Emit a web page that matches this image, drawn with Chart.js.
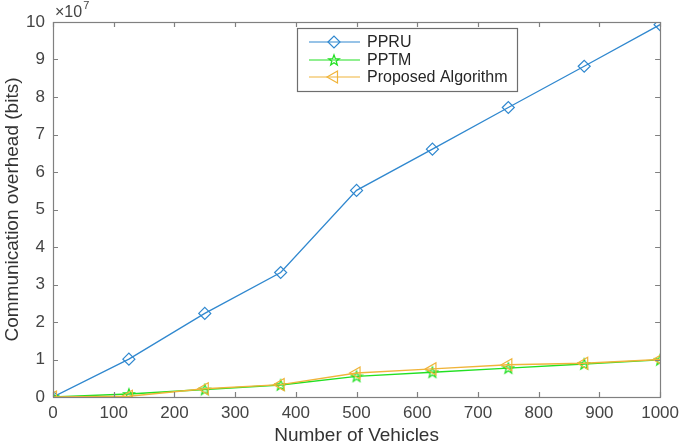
<!DOCTYPE html>
<html>
<head>
<meta charset="utf-8">
<script src="https://cdn.jsdelivr.net/npm/chart.js@4"></script>
<style>
html,body{margin:0;padding:0;background:#fff;}
#wrap{width:685px;height:446px;position:relative;}
</style>
</head>
<body>
<div id="wrap"><canvas id="c" width="685" height="446"></canvas></div>
<script>
// Data (values in units of 1e7 bits)
const vehicles = [0, 125, 250, 375, 500, 625, 750, 875, 1000];
const ppru = [0, 1.01, 2.23, 3.32, 5.51, 6.61, 7.72, 8.82, 9.93];
const pptm = [0, 0.08, 0.20, 0.32, 0.55, 0.66, 0.77, 0.88, 0.99];
const proposed = [0, 0.02, 0.22, 0.33, 0.64, 0.75, 0.86, 0.90, 1.00];
const seriesNames = ['PPRU', 'PPTM', 'Proposed Algorithm'];
const xTicks = [0,100,200,300,400,500,600,700,800,900,1000];
const yTicks = [0,1,2,3,4,5,6,7,8,9,10];
const SCALE = 1e7;

const cBlue = '#3088cf', cGreen = '#22e022', cOrange = '#f0b43a';

function starCanvas(color){
  const s = 14, cv = document.createElement('canvas');
  cv.width = s; cv.height = s;
  const g = cv.getContext('2d');
  g.strokeStyle = color; g.lineWidth = 1.3;
  g.beginPath();
  const cx = s/2, cy = s/2 + 0.5, R = 5.6, r = 2.3;
  for (let i=0;i<10;i++){
    const a = -Math.PI/2 + i*Math.PI/5;
    const rr = i%2===0 ? R : r;
    const x = cx + rr*Math.cos(a), y = cy + rr*Math.sin(a);
    if(i===0) g.moveTo(x,y); else g.lineTo(x,y);
  }
  g.closePath(); g.stroke();
  return cv;
}
const starImg = starCanvas(cGreen);

const toPts = arr => arr.map((v,i)=>({x: vehicles[i], y: v*SCALE}));

const font = "'Liberation Sans', Arial, Helvetica, sans-serif";
const axisColor = '#808080';
const textColor = '#444444';

const decor = {
  id: 'decor',
  afterDraw(chart){
    const ctx = chart.ctx, a = chart.chartArea;
    const xs = chart.scales.x, ys = chart.scales.y;
    ctx.save();
    ctx.strokeStyle = axisColor; ctx.lineWidth = 1.2;
    ctx.strokeRect(Math.round(a.left)+0.5, Math.round(a.top)+0.5, Math.round(a.right-a.left), Math.round(a.bottom-a.top));
    const tl = 5;
    ctx.beginPath();
    xTicks.forEach(t=>{
      const px = Math.round(xs.getPixelForValue(t))+0.5;
      ctx.moveTo(px, a.bottom); ctx.lineTo(px, a.bottom - tl);
      ctx.moveTo(px, a.top); ctx.lineTo(px, a.top + tl);
    });
    yTicks.forEach(t=>{
      const py = Math.round(ys.getPixelForValue(t*SCALE))+0.5;
      ctx.moveTo(a.left, py); ctx.lineTo(a.left + tl, py);
      ctx.moveTo(a.right, py); ctx.lineTo(a.right - tl, py);
    });
    ctx.stroke();
    // exponent label
    ctx.fillStyle = textColor;
    ctx.textBaseline = 'alphabetic';
    ctx.textAlign = 'left';
    ctx.font = '16px ' + font;
    ctx.fillText('\u00d710', a.left + 2, a.top - 5);
    const w = ctx.measureText('\u00d710').width;
    ctx.font = '11px ' + font;
    ctx.fillText('7', a.left + 2 + w + 1, a.top - 13);
    // legend
    const lx = 297, ly = 28, lw = 220, lh = 63;
    ctx.fillStyle = '#fff';
    ctx.fillRect(lx, ly, lw, lh);
    ctx.strokeStyle = '#6e6e6e'; ctx.lineWidth = 1.2;
    ctx.strokeRect(lx+0.5, ly+0.5, lw, lh);
    const rows = [ly+14, ly+32, ly+49];
    chart.data.datasets.forEach((ds, i)=>{
      const y = rows[i];
      ctx.strokeStyle = ds.borderColor; ctx.lineWidth = 1.2;
      ctx.beginPath(); ctx.moveTo(lx+12, y); ctx.lineTo(lx+63, y); ctx.stroke();
      ctx.strokeStyle = ds.borderColor; ctx.fillStyle = 'rgba(0,0,0,0)';
      Chart.helpers.drawPoint(ctx, {
        pointStyle: ds.pointStyle, radius: ds.pointRadius, rotation: ds.pointRotation || 0,
        borderWidth: 1.2
      }, lx+37, y);
      ctx.fillStyle = '#262626';
      ctx.font = '16px ' + font;
      ctx.textBaseline = 'middle';
      ctx.textAlign = 'left';
      ctx.fillText(seriesNames[i], lx+70, y+1);
    });
    ctx.restore();
  }
};

new Chart(document.getElementById('c'), {
  type: 'line',
  data: {
    datasets: [
      {label: seriesNames[0], data: toPts(ppru), borderColor: cBlue, backgroundColor: 'rgba(0,0,0,0)',
       pointStyle: 'rectRot', pointRadius: 6, pointBorderColor: cBlue, pointBackgroundColor: 'rgba(0,0,0,0)',
       pointBorderWidth: 1.2, borderWidth: 1.3, order: 2},
      {label: seriesNames[1], data: toPts(pptm), borderColor: cGreen, backgroundColor: 'rgba(0,0,0,0)',
       pointStyle: starImg, pointRadius: 6, pointBorderWidth: 1.2, borderWidth: 1.3, order: 1},
      {label: seriesNames[2], data: toPts(proposed), borderColor: cOrange, backgroundColor: 'rgba(0,0,0,0)',
       pointStyle: 'triangle', pointRotation: -90, pointRadius: 7, pointBorderColor: cOrange,
       pointBackgroundColor: 'rgba(0,0,0,0)', pointBorderWidth: 1.2, borderWidth: 1.3, order: 0}
    ]
  },
  options: {
    responsive: false, animation: false,
    layout: {padding: {left: 0, right: 19, top: 22, bottom: 0}},
    plugins: {legend: {display: false}, tooltip: {enabled: false}},
    elements: {line: {tension: 0}},
    scales: {
      x: {
        type: 'linear', min: 0, max: 1000,
        afterBuildTicks: s => { s.ticks = xTicks.map(v=>({value:v})); },
        afterFit: s => { s.height = 49; },
        grid: {display: false, drawTicks: false},
        border: {display: false},
        ticks: {color: textColor, font: {family: font, size: 17}, padding: 6, maxRotation: 0, callback: v => String(v)},
        title: {display: true, text: 'Number of Vehicles', color: '#333333', font: {family: font, size: 19}, padding: {top: 0, bottom: -1}}
      },
      y: {
        type: 'linear', min: 0, max: 10*SCALE,
        afterBuildTicks: s => { s.ticks = yTicks.map(v=>({value:v*SCALE})); },
        afterFit: s => { s.width = 53; },
        grid: {display: false, drawTicks: false},
        border: {display: false},
        ticks: {color: textColor, font: {family: font, size: 17}, padding: 8, callback: v => String(Math.round(v/SCALE))},
        title: {display: true, text: 'Communication overhead (bits)', color: '#333333', font: {family: font, size: 19}, padding: {top: 1, bottom: 0}}
      }
    }
  },
  plugins: [decor]
});
</script>
</body>
</html>
